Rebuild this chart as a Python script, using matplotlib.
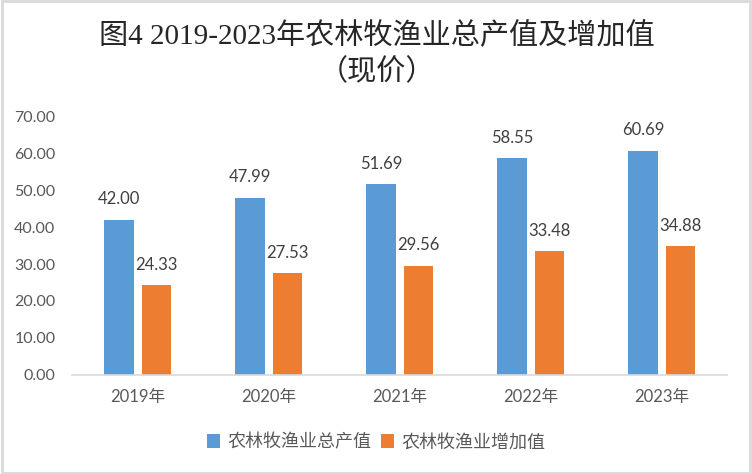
import numpy as np
import matplotlib
matplotlib.use("Agg")
import matplotlib.pyplot as plt
from matplotlib.patches import Rectangle

years = ["2019年", "2020年", "2021年", "2022年", "2023年"]
total_output = [42.00, 47.99, 51.69, 58.55, 60.69]
added_value = [24.33, 27.53, 29.56, 33.48, 34.88]
series_names = ["农林牧渔业总产值", "农林牧渔业增加值"]
yticks = [0, 10, 20, 30, 40, 50, 60, 70]

plt.rcParams['font.family'] = ['Lato', 'Noto Sans CJK SC', 'DejaVu Sans']

fig = plt.figure(figsize=(7.52, 4.74), dpi=100)
ax = fig.add_axes([0.096, 0.209, 0.871, 0.546])

x = np.arange(len(years))
w = 0.228
off = 0.144
b1 = ax.bar(x - off, total_output, w, color='#5B9BD5', label=series_names[0])
b2 = ax.bar(x + off, added_value, w, color='#ED7D31', label=series_names[1])

for bars, vals in ((b1, total_output), (b2, added_value)):
    for r, v in zip(bars, vals):
        ax.text(r.get_x() + r.get_width() / 2, v + 3.3, f"{v:.2f}",
                ha='center', va='bottom', fontsize=12, color='#404040')

ax.set_xlim(-0.5, len(years) - 0.5)
ax.set_ylim(0, 70)
ax.set_yticks(yticks)
ax.set_yticklabels([f"{t:.2f}" for t in yticks])
ax.set_xticks(x)
ax.set_xticklabels(years)
ax.tick_params(axis='both', length=0, labelsize=11.5, labelcolor='#595959')
ax.tick_params(axis='x', labelsize=12, pad=10)
ax.tick_params(axis='y', pad=12)
for s in ['top', 'right', 'left']:
    ax.spines[s].set_visible(False)
ax.spines['bottom'].set_color('#D9D9D9')
ax.spines['bottom'].set_linewidth(1.2)

fig.text(0.501, 0.924, "图4 2019-2023年农林牧渔业总产值及增加值", ha='center', va='center',
         fontsize=21, color='#262626', fontweight='light',
         family=['Liberation Serif', 'Noto Sans CJK SC'])
fig.text(0.501, 0.848, "（现价）", ha='center', va='center',
         fontsize=21, color='#262626', fontweight='light', family=['Noto Sans CJK SC'])

fig.legend(loc='center', bbox_to_anchor=(0.5, 0.068), ncol=2, frameon=False,
           fontsize=13, handlelength=0.75, handleheight=0.75, handletextpad=0.4,
           columnspacing=0.5, labelcolor='#595959')

fig.patches.append(Rectangle((0.002, 0.003), 0.996, 0.994, transform=fig.transFigure,
                             fill=False, edgecolor='#D9D9D9', linewidth=2))

fig.savefig("out.png", dpi=100)
